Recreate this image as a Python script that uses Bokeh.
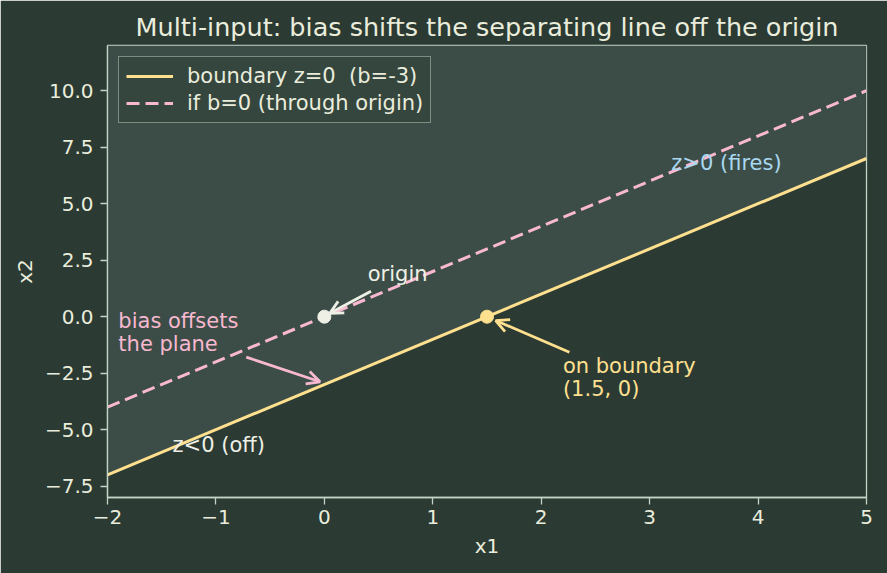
from bokeh.plotting import figure
from bokeh.models import (Range1d, FixedTicker, CustomJSTickFormatter, Label, Arrow, OpenHead)
from bokeh.embed import file_html
from bokeh.resources import INLINE

# ---- data ----
x_line = [-2, 5]
boundary_y = [-7, 7]          # z = 0 with b = -3  (x2 = 2*x1 - 3)
origin_line_y = [-4, 10]      # b = 0 (x2 = 2*x1)
y_top = [12, 12]

origin_pt_x = [0]
origin_pt_y = [0]
bound_pt_x = [1.5]
bound_pt_y = [0]

x_ticks = [-2, -1, 0, 1, 2, 3, 4, 5]
x_tick_labels = ["\u22122", "\u22121", "0", "1", "2", "3", "4", "5"]
y_ticks = [-7.5, -5.0, -2.5, 0.0, 2.5, 5.0, 7.5, 10.0]
y_tick_labels = ["\u22127.5", "\u22125.0", "\u22122.5", "0.0", "2.5", "5.0", "7.5", "10.0"]

# annotation texts: (text, x, y)
origin_text = ("origin", 0.4, 1.6)
bias_text = (["bias offsets", "the plane"], -1.9, -1.5)
bound_text = (["on boundary", "(1.5, 0)"], 2.2, -3.5)
fires_text = ("z>0 (fires)", 3.2, 6.5)
off_text = ("z<0 (off)", -1.4, -6.0)

# arrows: (x_start, y_start, x_end, y_end)
origin_arrow = (0.43, 1.13, 0.05, 0.15)
bias_arrow = (-0.72, -1.79, -0.04, -2.88)
bound_arrow = (2.26, -1.57, 1.58, -0.17)

# ---- styles ----
BG = "#2b3a33"
SHADE = "#3c4d48"
SPINE = "#c2d4c6"
TXT = "#eaeddc"
YEL = "#ffe08f"
PINK = "#f8b8cf"
BLUE = "#a9d8f0"
WHITE = "#eef0e6"
FONT = "DejaVu Sans"

p = figure(width=887, height=573, x_range=Range1d(-2, 5), y_range=Range1d(-8, 12),
           output_backend="svg", toolbar_location=None,
           background_fill_color=BG, border_fill_color=BG,
           min_border_left=107, min_border_right=21, min_border_top=45, min_border_bottom=76,
           title="Multi-input: bias shifts the separating line off the origin")

p.title.text_font = FONT
p.title.text_font_size = "25.5px"
p.title.text_font_style = "normal"
p.title.text_color = TXT
p.title.align = "center"
p.title.standoff = 8

p.grid.visible = False
p.outline_line_color = SPINE
p.outline_line_width = 1.3
p.outline_line_alpha = 1

for ax in (p.xaxis[0], p.yaxis[0]):
    ax.axis_line_color = SPINE
    ax.axis_line_width = 1.3
    ax.major_tick_line_color = SPINE
    ax.major_tick_line_width = 1.3
    ax.major_tick_out = 7
    ax.major_tick_in = 0
    ax.minor_tick_line_color = None
    ax.major_label_text_color = TXT
    ax.major_label_text_font = FONT
    ax.major_label_text_font_size = "20px"
    ax.axis_label_text_color = TXT
    ax.axis_label_text_font = FONT
    ax.axis_label_text_font_size = "20px"
    ax.axis_label_text_font_style = "normal"

FMT_CODE = ("for (let i = 0; i < tv.length; i++) { if (Math.abs(tv[i] - tick) < 1e-9) return tl[i]; } "
            "return '';")
p.xaxis.ticker = FixedTicker(ticks=x_ticks)
p.xaxis.formatter = CustomJSTickFormatter(args=dict(tv=x_ticks, tl=x_tick_labels), code=FMT_CODE)
p.yaxis.ticker = FixedTicker(ticks=y_ticks)
p.yaxis.formatter = CustomJSTickFormatter(args=dict(tv=y_ticks, tl=y_tick_labels), code=FMT_CODE)
p.xaxis.axis_label = "x1"
p.yaxis.axis_label = "x2"
p.xaxis.major_label_standoff = 5
p.yaxis.major_label_standoff = 7
p.xaxis.axis_label_standoff = 7
p.yaxis.axis_label_standoff = 5

# shaded half-plane z>0
p.varea(x=x_line, y1=boundary_y, y2=y_top, fill_color=SHADE, fill_alpha=1)

p.line(x_line, boundary_y, line_color=YEL, line_width=3, legend_label="boundary z=0  (b=-3)")
p.line(x_line, origin_line_y, line_color=PINK, line_width=3, line_dash="13 6",
       legend_label="if b=0 (through origin)")

p.scatter(origin_pt_x, origin_pt_y, size=13, fill_color=WHITE, line_color=WHITE)
p.scatter(bound_pt_x, bound_pt_y, size=13, fill_color=YEL, line_color=YEL)

def add_text(t, x, y, color):
    p.add_layout(Label(x=x, y=y, text=t, text_color=color, text_font=FONT, y_offset=7,
                       text_font_size="21px", text_baseline="alphabetic", text_align="left"))

LINE_STEP = 1.02
add_text(origin_text[0], origin_text[1], origin_text[2], WHITE)
add_text(bias_text[0][0], bias_text[1], bias_text[2] + LINE_STEP, PINK)
add_text(bias_text[0][1], bias_text[1], bias_text[2], PINK)
add_text(bound_text[0][0], bound_text[1], bound_text[2] + LINE_STEP, YEL)
add_text(bound_text[0][1], bound_text[1], bound_text[2], YEL)
add_text(fires_text[0], fires_text[1], fires_text[2], BLUE)
add_text(off_text[0], off_text[1], off_text[2], WHITE)

for (x0, y0, x1, y1), c in ((origin_arrow, WHITE), (bias_arrow, PINK), (bound_arrow, YEL)):
    p.add_layout(Arrow(x_start=x0, y_start=y0, x_end=x1, y_end=y1, line_color=c, line_width=2.8,
                       end=OpenHead(size=13, line_color=c, line_width=2.8)))

lg = p.legend[0]
lg.location = "top_left"
lg.margin = 11
lg.padding = 7
lg.spacing = 3
lg.glyph_width = 47
lg.glyph_height = 20
lg.label_height = 20
lg.label_standoff = 14
lg.label_text_font = FONT
lg.label_text_font_size = "21px"
lg.label_text_color = TXT
lg.background_fill_color = "#35463f"
lg.background_fill_alpha = 1
lg.border_line_color = "#c8d2c8"
lg.border_line_width = 1.2

open("out.html", "w").write(file_html(p, INLINE))
